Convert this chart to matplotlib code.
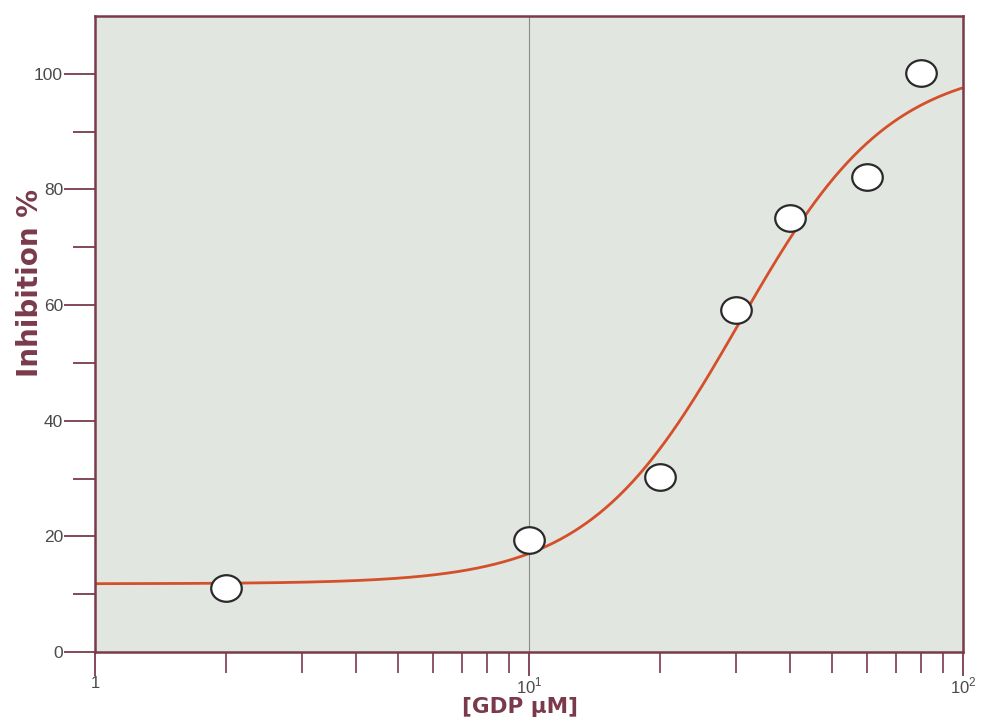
import numpy as np
import matplotlib
matplotlib.use("Agg")
import matplotlib.pyplot as plt
from matplotlib.path import Path
from matplotlib.ticker import FixedLocator, FixedFormatter

# Data
gdp_um = [2, 10, 20, 30, 40, 60, 80]
inhibition = [11.0, 19.3, 30.2, 59.2, 75.1, 82.2, 100.2]

# Fitted dose-response curve parameters (Hill equation)
fit_bottom = 11.8
fit_top = 102.0
fit_ic50 = 30.5
fit_hill = 2.5

x_ticks = [1, 10, 100]
x_ticklabels = ["1", "$10^{1}$", "$10^{2}$"]
y_ticks = [0, 20, 40, 60, 80, 100]
y_minor = [10, 30, 50, 70, 90]

maroon = "#7a3a4c"
bg = "#e2e6e0"

plt.rcParams["font.family"] = ["Liberation Sans", "DejaVu Sans"]
plt.rcParams["mathtext.fontset"] = "custom"
plt.rcParams["mathtext.rm"] = "Liberation Sans"

fig = plt.figure(figsize=(9.82, 7.19), dpi=100)
ax = fig.add_axes([95/982, 1-652/719, (963-95)/982, (652-16)/719])
ax.set_facecolor(bg)

ax.set_xscale("log")
ax.set_xlim(1, 100)
ax.set_ylim(0, 110)

# vertical reference line at 10
ax.axvline(10, color="#8a8a8a", lw=0.8, zorder=1)

xs = np.logspace(0, 2, 400)
ys = fit_bottom + (fit_top - fit_bottom) / (1 + (fit_ic50 / xs) ** fit_hill)
ax.plot(xs, ys, color="#d4502a", lw=2.0, zorder=2, solid_capstyle="butt")

circ = Path.unit_circle()
ell = Path(circ.vertices * np.array([1.15, 1.0]), circ.codes)
ax.plot(gdp_um, inhibition, linestyle="none", marker=ell, markersize=22,
        markerfacecolor="white", markeredgecolor="#2a2a2a", markeredgewidth=1.6,
        zorder=3, clip_on=False)

for s in ax.spines.values():
    s.set_color(maroon)
    s.set_linewidth(1.8)

ax.xaxis.set_major_locator(FixedLocator(x_ticks))
ax.xaxis.set_major_formatter(FixedFormatter(x_ticklabels))
minor_x = [m * d for d in (1, 10) for m in range(2, 10)]
ax.xaxis.set_minor_locator(FixedLocator(minor_x))
ax.xaxis.set_minor_formatter(FixedFormatter([""] * len(minor_x)))
ax.yaxis.set_major_locator(FixedLocator(y_ticks))
ax.yaxis.set_minor_locator(FixedLocator(y_minor))

ax.tick_params(axis="x", which="major", direction="out", length=17, width=1.3,
               color=maroon, labelcolor="#4a4a4a", labelsize=12, pad=0)
ax.tick_params(axis="y", which="major", direction="out", length=22, width=1.3,
               color=maroon, labelcolor="#4a4a4a", labelsize=12.5, pad=1)
ax.tick_params(axis="x", which="minor", direction="out", length=15, width=1.2,
               color=maroon)
ax.tick_params(axis="y", which="minor", direction="out", length=16, width=1.3,
               color=maroon)

ax.set_xlabel("[GDP μM]", fontsize=15.5, fontweight="bold", color=maroon,
              family=["DejaVu Sans"])
ax.xaxis.set_label_coords((520 - 95) / 868, -(697 - 652) / 636)
ax.set_ylabel("Inhibition %", fontsize=20, fontweight="bold", color=maroon,
              family=["DejaVu Sans"])
ax.yaxis.set_label_coords((44 - 95) / 868, 0.58)

fig.savefig("out.png", dpi=100, facecolor="white")
